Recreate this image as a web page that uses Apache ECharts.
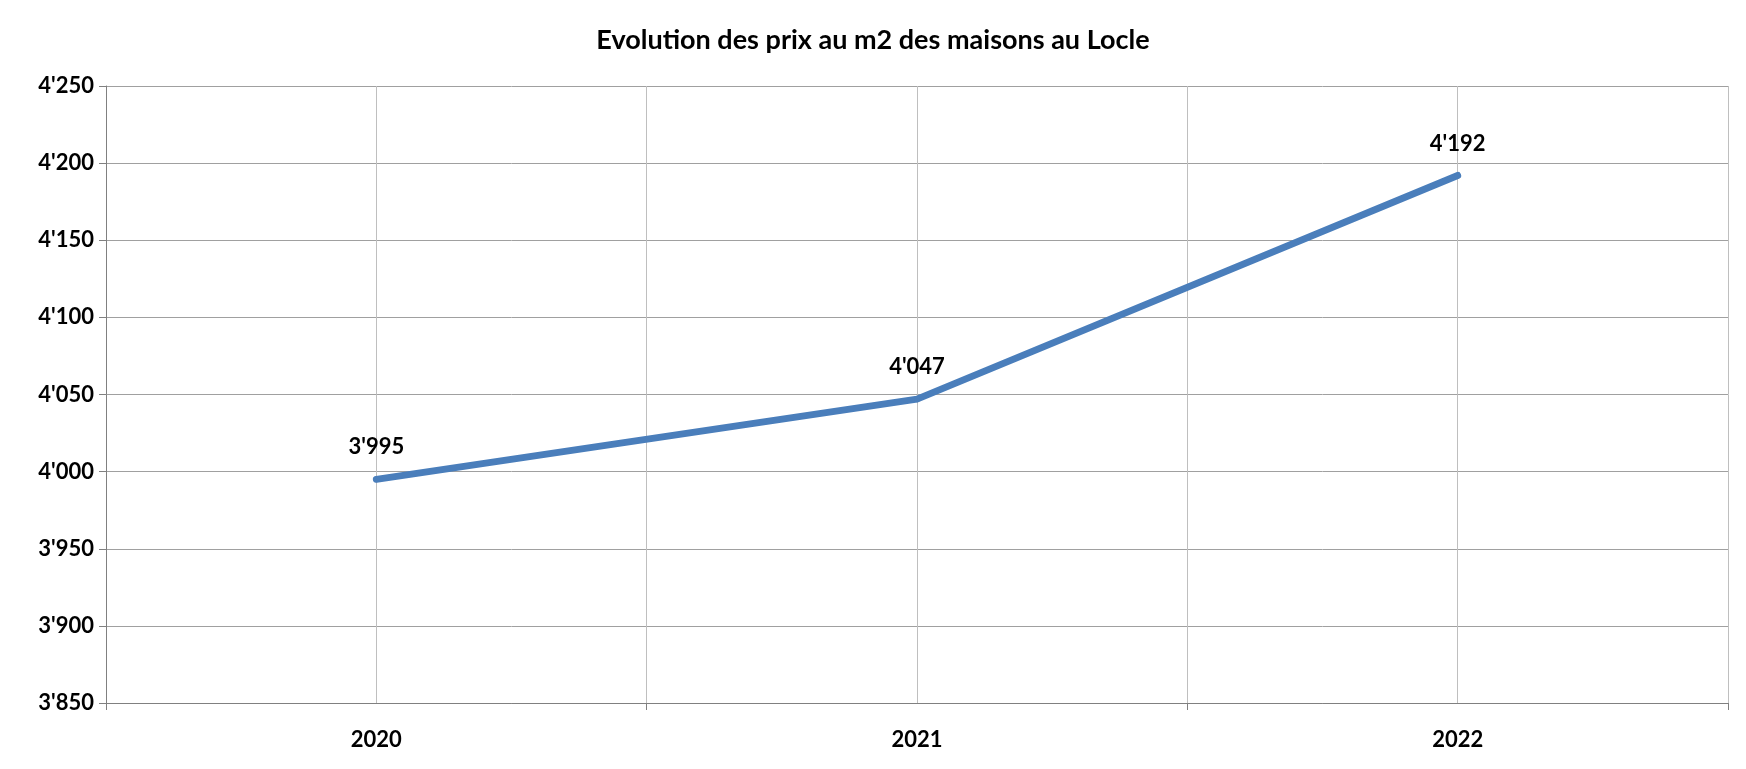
<!DOCTYPE html>
<html><head><meta charset="utf-8">
<script src="https://cdn.jsdelivr.net/npm/echarts@6/dist/echarts.min.js"></script>
<style>html,body{margin:0;padding:0;background:#fff}#main{width:1746px;height:769px}</style>
</head><body><div id="main"></div>
<script>
var years = ['2020', '2021', '2022'];
var prix = [3995, 4047, 4192];
var yMin = 3850, yMax = 4250, yStep = 50;

function fmt(v) {
  var s = String(Math.round(v));
  return s.length > 3 ? s.slice(0, s.length - 3) + "'" + s.slice(-3) : s;
}

var font = 'Lato, "Open Sans", sans-serif';
echarts.init(document.getElementById('main')).setOption({
  animation: false,
  title: {
    text: 'Evolution des prix au m2 des maisons au Locle',
    left: 'center', top: 22,
    textStyle: {fontFamily: font, fontSize: 27, fontWeight: 'bold', color: '#000'}
  },
  grid: {left: 106, right: 18, top: 86, bottom: 66},
  xAxis: [{
    type: 'category', data: years, boundaryGap: true,
    axisLine: {lineStyle: {color: '#808080'}},
    axisTick: {show: true, length: 7, lineStyle: {color: '#808080'}},
    axisLabel: {margin: 26, fontFamily: font, fontSize: 22, fontWeight: 'bold', color: '#000'},
    splitLine: {show: false}
  }, {
    // grille verticale : centres et limites des catégories
    type: 'category', data: ['', '', '', '', '', ''], boundaryGap: true,
    position: 'bottom', axisLine: {show: false}, axisTick: {show: false}, axisLabel: {show: false},
    splitLine: {show: true, lineStyle: {color: '#bfbfbf', width: 1}}
  }],
  yAxis: {
    type: 'value', min: yMin, max: yMax, interval: yStep,
    axisLine: {show: true, lineStyle: {color: '#808080'}},
    axisTick: {show: true, length: 7, lineStyle: {color: '#808080'}},
    axisLabel: {formatter: fmt, fontFamily: font, fontSize: 22, fontWeight: 'bold', color: '#000', margin: 12},
    splitLine: {lineStyle: {color: '#a0a0a0', width: 1}}
  },
  series: [{
    type: 'line', data: prix, xAxisIndex: 0,
    showSymbol: true, symbol: 'circle', symbolSize: 6,
    lineStyle: {color: '#4a7ebb', width: 7, cap: 'round'},
    itemStyle: {color: '#4a7ebb'},
    label: {show: true, position: 'top', distance: 18, formatter: function(p){return fmt(p.value);},
      fontFamily: font, fontSize: 22, fontWeight: 'bold', color: '#000'}
  }]
});
</script></body></html>
